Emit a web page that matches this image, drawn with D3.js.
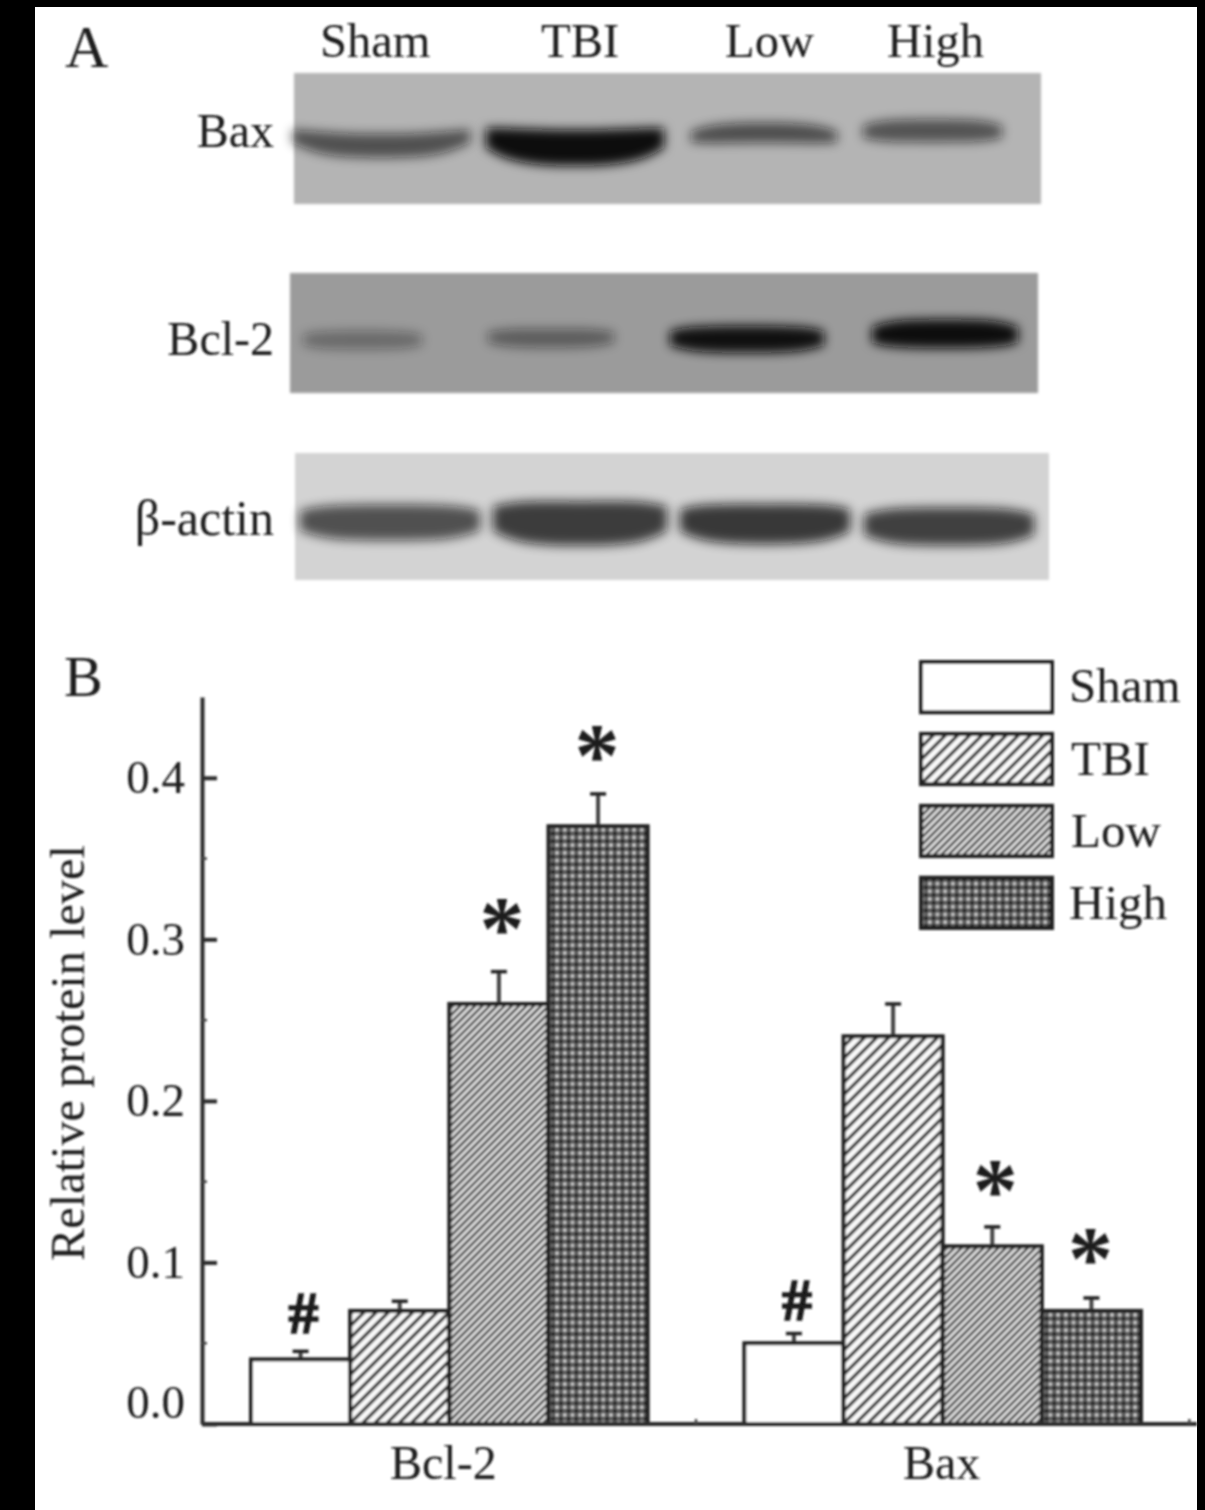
<!DOCTYPE html>
<html>
<head>
<meta charset="utf-8">
<script src="https://cdnjs.cloudflare.com/ajax/libs/d3/7.8.5/d3.min.js"></script>
<style>
    html, body { margin: 0; padding: 0; background: #000; }
    svg { display: block; }
    text { font-family: "Liberation Serif", serif; fill: #1a1a1a; }
</style>
</head>
<body>
<div class="figure"></div>
<script>
"use strict";

// Data:
var groups = ["Bcl-2", "Bax"];
var treatments = ["Sham", "TBI", "Low", "High"];
var bcl2Values = [0.04, 0.07, 0.26, 0.37];
var baxValues = [0.05, 0.24, 0.11, 0.07];
var bcl2Errors = [0.005, 0.006, 0.02, 0.02];
var baxErrors = [0.006, 0.02, 0.012, 0.008];
var bcl2Marks = ["#", "", "*", "*"];
var baxMarks = ["#", "", "*", "*"];
var bcl2MarkLevels = [0.069, 0, 0.31, 0.417];     // Height of each mark's centre on the value axis
var baxMarkLevels = [0.077, 0, 0.148, 0.106];
var yTicks = [0, 0.1, 0.2, 0.3, 0.4];
var yMinorTicks = [0.05, 0.15, 0.25, 0.35];

// Blot band darkness per lane (0 to 1):
var blotRows = ["Bax", "Bcl-2", "β-actin"];
var baxDensity = [0.6, 1, 0.62, 0.58];
var bcl2Density = [0.34, 0.44, 0.98, 1];
var actinDensity = [0.66, 0.76, 0.78, 0.74];

// Page properties:
var width = 1205;
var height = 1510;
var frame = { top: 7, right: 8, left: 35 };

var svg = d3.select(".figure").append("svg")
    .attr("width", width)
    .attr("height", height);

svg.append("rect")
    .attr("x", frame.left)
    .attr("y", frame.top)
    .attr("width", width - frame.left - frame.right)
    .attr("height", height - frame.top)
    .attr("fill", "#fff");

var defs = svg.append("defs");

defs.append("filter").attr("id", "soft")
    .attr("x", "-2%").attr("y", "-2%").attr("width", "104%").attr("height", "104%")
    .append("feGaussianBlur").attr("stdDeviation", 0.8);
defs.append("filter").attr("id", "bandBlur")
    .attr("x", "-20%").attr("y", "-80%").attr("width", "140%").attr("height", "260%")
    .append("feGaussianBlur").attr("stdDeviation", 5.5);
defs.append("filter").attr("id", "edgeBlur")
    .attr("x", "-2%").attr("y", "-5%").attr("width", "104%").attr("height", "110%")
    .append("feGaussianBlur").attr("stdDeviation", 1.5);

// Bar fills:
var tbiPattern = defs.append("pattern").attr("id", "fillTBI")
    .attr("patternUnits", "userSpaceOnUse")
    .attr("width", 8.6).attr("height", 8.6)
    .attr("patternTransform", "rotate(45)");
tbiPattern.append("rect").attr("width", 8.6).attr("height", 8.6).attr("fill", "#fafafa");
tbiPattern.append("rect").attr("width", 3.2).attr("height", 8.6).attr("fill", "#2a2a2a");

var lowPattern = defs.append("pattern").attr("id", "fillLow")
    .attr("patternUnits", "userSpaceOnUse")
    .attr("width", 5.2).attr("height", 5.2)
    .attr("patternTransform", "rotate(45)");
lowPattern.append("rect").attr("width", 5.2).attr("height", 5.2).attr("fill", "#e2e2e2");
lowPattern.append("rect").attr("width", 2.4).attr("height", 5.2).attr("fill", "#3c3c3c");

var highPattern = defs.append("pattern").attr("id", "fillHigh")
    .attr("patternUnits", "userSpaceOnUse")
    .attr("width", 7.7).attr("height", 7.7);
highPattern.append("rect").attr("width", 7.7).attr("height", 7.7).attr("fill", "#5e5e5e");
highPattern.append("circle").attr("cx", 1.9).attr("cy", 1.9).attr("r", 1.7).attr("fill", "#000");
highPattern.append("circle").attr("cx", 5.75).attr("cy", 5.75).attr("r", 1.5).attr("fill", "#f2f2f2");

var fillOf = d3.scaleOrdinal()
    .domain(treatments)
    .range(["#fff", "url(#fillTBI)", "url(#fillLow)", "url(#fillHigh)"]);


//
/* Panel A: */
//

var panelA = svg.append("g").attr("class", "panelA");

var blotPanels = [
    { x: 294, y: 73, w: 747, h: 131, bg: "#b4b4b4", density: baxDensity, labelY: 147, labelSize: 48,
      bands: [[292, 470, 143, 24, 10], [486, 664, 145, 36, 10], [691, 837, 134, 20, -4], [863, 1002, 131, 23, -1]] },
    { x: 290, y: 273, w: 748, h: 120, bg: "#9b9b9b", density: bcl2Density, labelY: 355, labelSize: 48,
      bands: [[303, 422, 340, 19, 0], [488, 614, 338, 19, 1], [670, 824, 339, 27, 1], [872, 1018, 334, 29, -1]] },
    { x: 295, y: 453, w: 754, h: 127, bg: "#d3d3d3", density: actinDensity, labelY: 535, labelSize: 50,
      bands: [[300, 480, 522, 36, 2], [493, 667, 522, 44, 5], [680, 850, 523, 40, 4], [864, 1034, 526, 38, 2]] }
];

// Band outline along its width: position 0-1, share of thickness, share of bend
var bandProfile = [
    [0, 0.55, 0], [0.12, 0.9, 0.6], [0.3, 1, 0.95], [0.5, 1, 1],
    [0.7, 1, 0.95], [0.88, 0.9, 0.6], [1, 0.55, 0]
];

var bandArea = d3.area().curve(d3.curveBasis);

blotPanels.forEach(function(panel, r)
{
    var row = panelA.append("g").attr("class", "blot");

    row.append("rect")
        .attr("x", panel.x).attr("y", panel.y)
        .attr("width", panel.w).attr("height", panel.h)
        .attr("fill", panel.bg)
        .attr("filter", "url(#edgeBlur)");

    row.selectAll(".band")
        .data(panel.bands).enter()
        .append("path")
        .attr("class", "band")
        .attr("fill", "#0a0a0a")
        .attr("opacity", function(d, i) { return panel.density[i]; })
        .attr("filter", "url(#bandBlur)")
        .attr("d", function(d)
        {
            var x = d3.scaleLinear().domain([0, 1]).range([d[0], d[1]]);
            return bandArea
                .x(function(p) { return x(p[0]); })
                .y0(function(p) { return d[2] + d[4] * (p[2] - 0.7) - d[3] / 2 * p[1]; })
                .y1(function(p) { return d[2] + d[4] * (p[2] - 0.7) + d[3] / 2 * p[1]; })(bandProfile);
        });

    panelA.append("text")
        .attr("x", 274)
        .attr("y", panel.labelY)
        .attr("text-anchor", "end")
        .attr("font-size", panel.labelSize)
        .attr("filter", "url(#soft)")
        .text(blotRows[r]);
});

var laneLabelX = [320, 541, 725, 887];

panelA.selectAll(".laneLabel")
    .data(treatments).enter()
    .append("text")
    .attr("class", "laneLabel")
    .attr("x", function(d, i) { return laneLabelX[i]; })
    .attr("y", 57)
    .attr("font-size", 48.5)
    .attr("filter", "url(#soft)")
    .text(function(d) { return d; });

svg.append("text").attr("x", 65).attr("y", 67).attr("font-size", 60).attr("filter", "url(#soft)").text("A");
svg.append("text").attr("x", 64).attr("y", 696).attr("font-size", 58).attr("filter", "url(#soft)").text("B");


//
/* Panel B: */
//

var panelB = svg.append("g").attr("class", "panelB").attr("filter", "url(#soft)");

var y = d3.scaleLinear().domain([0, 0.45]).range([1424, 697]);

var xGroup = d3.scaleBand()
    .domain(groups)
    .range([251, 1141])
    .paddingInner(0.196);

var xBar = d3.scaleBand()
    .domain(treatments)
    .range([0, xGroup.bandwidth()]);

var chartData = groups.map(function(g, i)
{
    var values = i == 0 ? bcl2Values : baxValues;
    var errors = i == 0 ? bcl2Errors : baxErrors;
    var marks = i == 0 ? bcl2Marks : baxMarks;
    var levels = i == 0 ? bcl2MarkLevels : baxMarkLevels;
    return treatments.map(function(t, j)
    {
        return { group: g, treatment: t, value: values[j], error: errors[j], mark: marks[j], level: levels[j] };
    });
});

var barGroups = panelB.selectAll(".barGroup")
    .data(chartData).enter()
    .append("g")
    .attr("class", "barGroup")
    .attr("transform", function(d, i) { return "translate(" + xGroup(groups[i]) + ",0)"; });

// Error bars sit behind the bars
barGroups.selectAll(".errorLine")
    .data(function(d) { return d; }).enter()
    .append("line")
    .attr("class", "errorLine")
    .attr("x1", function(d) { return xBar(d.treatment) + xBar.bandwidth() / 2; })
    .attr("x2", function(d) { return xBar(d.treatment) + xBar.bandwidth() / 2; })
    .attr("y1", function(d) { return y(d.value); })
    .attr("y2", function(d) { return y(d.value + d.error); })
    .attr("stroke", "#444")
    .attr("stroke-width", 4);

barGroups.selectAll(".errorCap")
    .data(function(d) { return d; }).enter()
    .append("line")
    .attr("class", "errorCap")
    .attr("x1", function(d) { return xBar(d.treatment) + xBar.bandwidth() / 2 - 8; })
    .attr("x2", function(d) { return xBar(d.treatment) + xBar.bandwidth() / 2 + 8; })
    .attr("y1", function(d) { return y(d.value + d.error); })
    .attr("y2", function(d) { return y(d.value + d.error); })
    .attr("stroke", "#222")
    .attr("stroke-width", 3.5);

barGroups.selectAll(".bar")
    .data(function(d) { return d; }).enter()
    .append("rect")
    .attr("class", "bar")
    .attr("x", function(d) { return xBar(d.treatment); })
    .attr("y", function(d) { return y(d.value); })
    .attr("width", xBar.bandwidth())
    .attr("height", function(d) { return y(0) - y(d.value); })
    .attr("fill", function(d) { return fillOf(d.treatment); })
    .attr("stroke", "#222")
    .attr("stroke-width", 4);

// Significance marks, centred on their level
barGroups.selectAll(".mark")
    .data(function(d) { return d.filter(function(e) { return e.mark != ""; }); }).enter()
    .append("text")
    .attr("class", "mark")
    .attr("x", function(d) { return xBar(d.treatment) + xBar.bandwidth() / 2 + (d.treatment == "High" ? -1 : 3); })
    .attr("y", function(d) { return y(d.level) + (d.mark == "#" ? 20 : 36); })
    .attr("text-anchor", "middle")
    .attr("font-size", function(d) { return d.mark == "#" ? 60 : 90; })
    .attr("font-weight", "bold")
    .attr("stroke", "#1a1a1a")
    .attr("stroke-width", function(d) { return d.mark == "#" ? 1.6 : 0; })
    .text(function(d) { return d.mark; });

// Axes
var yAxis = d3.axisLeft(y)
    .tickValues(yTicks)
    .tickFormat(d3.format(".1f"))
    .tickSizeInner(-15)
    .tickSizeOuter(0)
    .tickPadding(17);

var yAxisG = panelB.append("g")
    .attr("class", "yAxis")
    .attr("transform", "translate(202,0)")
    .call(yAxis);

yAxisG.selectAll("path, line").attr("stroke", "#2b2b2b").attr("stroke-width", 4);
yAxisG.selectAll("text")
    .attr("font-size", 47)
    .attr("font-family", "Liberation Serif")
    .attr("fill", "#1a1a1a")
    .attr("dy", function(d) { return d == 0 ? "-0.13em" : "0.32em"; });

yAxisG.selectAll(".minor")
    .data(yMinorTicks).enter()
    .append("line")
    .attr("class", "minor")
    .attr("y1", function(d) { return y(d); })
    .attr("y2", function(d) { return y(d); })
    .attr("x2", 5)
    .attr("stroke", "#444")
    .attr("stroke-width", 2.5);

var xAxisLine = panelB.append("g").attr("class", "xAxis");

xAxisLine.append("line")
    .attr("x1", 202).attr("x2", width - frame.right)
    .attr("y1", y(0)).attr("y2", y(0))
    .attr("stroke", "#2b2b2b")
    .attr("stroke-width", 4);

// Small ticks half a step past each group
xAxisLine.selectAll(".xTick")
    .data(groups).enter()
    .append("line")
    .attr("class", "xTick")
    .attr("x1", function(d) { return xGroup(d) + xGroup.bandwidth() + xGroup.step() * xGroup.paddingInner() / 2; })
    .attr("x2", function(d) { return xGroup(d) + xGroup.bandwidth() + xGroup.step() * xGroup.paddingInner() / 2; })
    .attr("y1", y(0))
    .attr("y2", y(0) - 5)
    .attr("stroke", "#444")
    .attr("stroke-width", 2.5);

xAxisLine.selectAll(".groupLabel")
    .data(groups).enter()
    .append("text")
    .attr("class", "groupLabel")
    .attr("x", function(d, i) { return xGroup(d) + xGroup.bandwidth() / 2 - (i == 0 ? 6 : 1); })
    .attr("y", 1479)
    .attr("text-anchor", "middle")
    .attr("font-size", 48)
    .text(function(d) { return d; });

panelB.append("text")
    .attr("transform", "translate(84,1053) rotate(-90)")
    .attr("text-anchor", "middle")
    .attr("font-size", 48.3)
    .text("Relative protein level");

// Legend
var legendY = d3.scaleBand()
    .domain(treatments)
    .range([662, 928])
    .paddingInner(0.3);

var legend = panelB.selectAll(".legendRow")
    .data(treatments).enter()
    .append("g")
    .attr("class", "legendRow");

legend.append("rect")
    .attr("x", 921)
    .attr("y", function(d) { return legendY(d); })
    .attr("width", 131)
    .attr("height", legendY.bandwidth())
    .attr("fill", function(d) { return fillOf(d); })
    .attr("stroke", "#222")
    .attr("stroke-width", 4);

legend.append("text")
    .attr("x", function(d) { return d == "TBI" || d == "Low" ? 1071 : 1069; })
    .attr("y", function(d) { return legendY(d) + (d == "Sham" ? 40 : 41); })
    .attr("font-size", 49)
    .text(function(d) { return d; });
</script>
</body>
</html>
